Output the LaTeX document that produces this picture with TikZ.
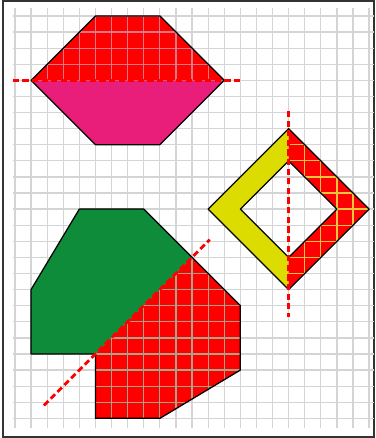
\documentclass[tikz,border=0pt]{standalone}
\usepackage{xcolor}
\definecolor{FilledRed}{HTML}{FF0000}
\definecolor{FilledMagenta}{HTML}{E91E7A}
\definecolor{FilledGreen}{HTML}{0F8C3A}
\definecolor{FilledYellow}{HTML}{DCDC00}
\colorlet{GridLine}{black!17}
\definecolor{GridOnRedTop}{HTML}{E07A88}
\definecolor{GridOnRedDiamond}{HTML}{F2C440}
\definecolor{GridOnRedBottom}{HTML}{A8A48C}
\tikzset{
  gridline/.style={line width=1.1pt},
  symaxis/.style={FilledRed, line width=2.5pt, dash pattern=on 5.5pt off 3pt},
  outline/.style={black, line width=1.1pt, line join=round}
}

\begin{document}
\begin{tikzpicture}[x=0.5cm, y=-0.5cm]

\useasboundingbox (-0.93,-0.99) rectangle (22.42,26.22);
\draw[line width=1.8pt, black!80] (-0.75,-0.93) rectangle (22.3,26.15);

% Cuadricula de fondo
\foreach \i in {0,...,22}
  \draw[gridline, GridLine] (\i,-0.5) -- (\i,25.6);
\foreach \j in {0,...,25}
  \draw[gridline, GridLine] (-0.15,\j) -- (22.3,\j);

% Hexagono superior
\coordinate (A) at (1, 4);
\coordinate (B) at (5, 0);
\coordinate (C) at (9, 0);
\coordinate (D) at (13, 4);
\coordinate (E) at (9, 8);
\coordinate (F) at (5, 8);

\fill[FilledMagenta] (A) -- (D) -- (E) -- (F) -- cycle;
\fill[FilledRed] (A) -- (B) -- (C) -- (D) -- cycle;
\begin{scope}
  \clip (A) -- (B) -- (C) -- (D) -- cycle;
  \foreach \i in {1,...,13} \draw[gridline, GridOnRedTop] (\i,0) -- (\i,4);
  \foreach \j in {0,...,4} \draw[gridline, GridOnRedTop] (1,\j) -- (13,\j);
\end{scope}
\draw[outline] (A) -- (B) -- (C) -- (D) -- (E) -- (F) -- cycle;
\draw[symaxis] (-0.14,4) -- (14.14,4);

% Marco cuadrado girado
\coordinate (N) at (17, 7);
\coordinate (W) at (12, 12);
\coordinate (S) at (17, 17);
\coordinate (O) at (22, 12);
\coordinate (n) at (17, 9);
\coordinate (w) at (14, 12);
\coordinate (s) at (17, 15);
\coordinate (o) at (20, 12);

\fill[FilledYellow] (N) -- (W) -- (S) -- (s) -- (w) -- (n) -- cycle;
\fill[FilledRed] (N) -- (O) -- (S) -- (s) -- (o) -- (n) -- cycle;
\begin{scope}
  \clip (N) -- (O) -- (S) -- (s) -- (o) -- (n) -- cycle;
  \foreach \i in {17,...,22} \draw[gridline, GridOnRedDiamond] (\i,7) -- (\i,17);
  \foreach \j in {7,...,17} \draw[gridline, GridOnRedDiamond] (17,\j) -- (22,\j);
\end{scope}
\draw[outline] (N) -- (W) -- (S) -- (O) -- cycle;
\draw[outline] (n) -- (w) -- (s) -- (o) -- cycle;
\draw[symaxis] (17,5.9) -- (17,18.7);

% Figura inferior
\coordinate (P1) at (4, 12);
\coordinate (P2) at (8, 12);
\coordinate (P3) at (11, 15);
\coordinate (P4) at (14, 18);
\coordinate (P5) at (14, 22);
\coordinate (P6) at (9, 25);
\coordinate (P7) at (5, 25);
\coordinate (P8) at (5, 21);
\coordinate (P9) at (1, 21);
\coordinate (P10) at (1, 17);

\fill[FilledGreen] (P1) -- (P2) -- (P3) -- (P8) -- (P9) -- (P10) -- cycle;
\fill[FilledRed] (P3) -- (P4) -- (P5) -- (P6) -- (P7) -- (P8) -- cycle;
\begin{scope}
  \clip (P3) -- (P4) -- (P5) -- (P6) -- (P7) -- (P8) -- cycle;
  \foreach \i in {5,...,14} \draw[gridline, GridOnRedBottom] (\i,15) -- (\i,25);
  \foreach \j in {15,...,25} \draw[gridline, GridOnRedBottom] (5,\j) -- (14,\j);
\end{scope}
\draw[outline] (P1) -- (P2) -- (P4) -- (P5) -- (P6) -- (P7) -- (P8)
  -- (P9) -- (P10) -- cycle;
\draw[symaxis] (1.8,24.2) -- (12.1,13.9);

\end{tikzpicture}
\end{document}
